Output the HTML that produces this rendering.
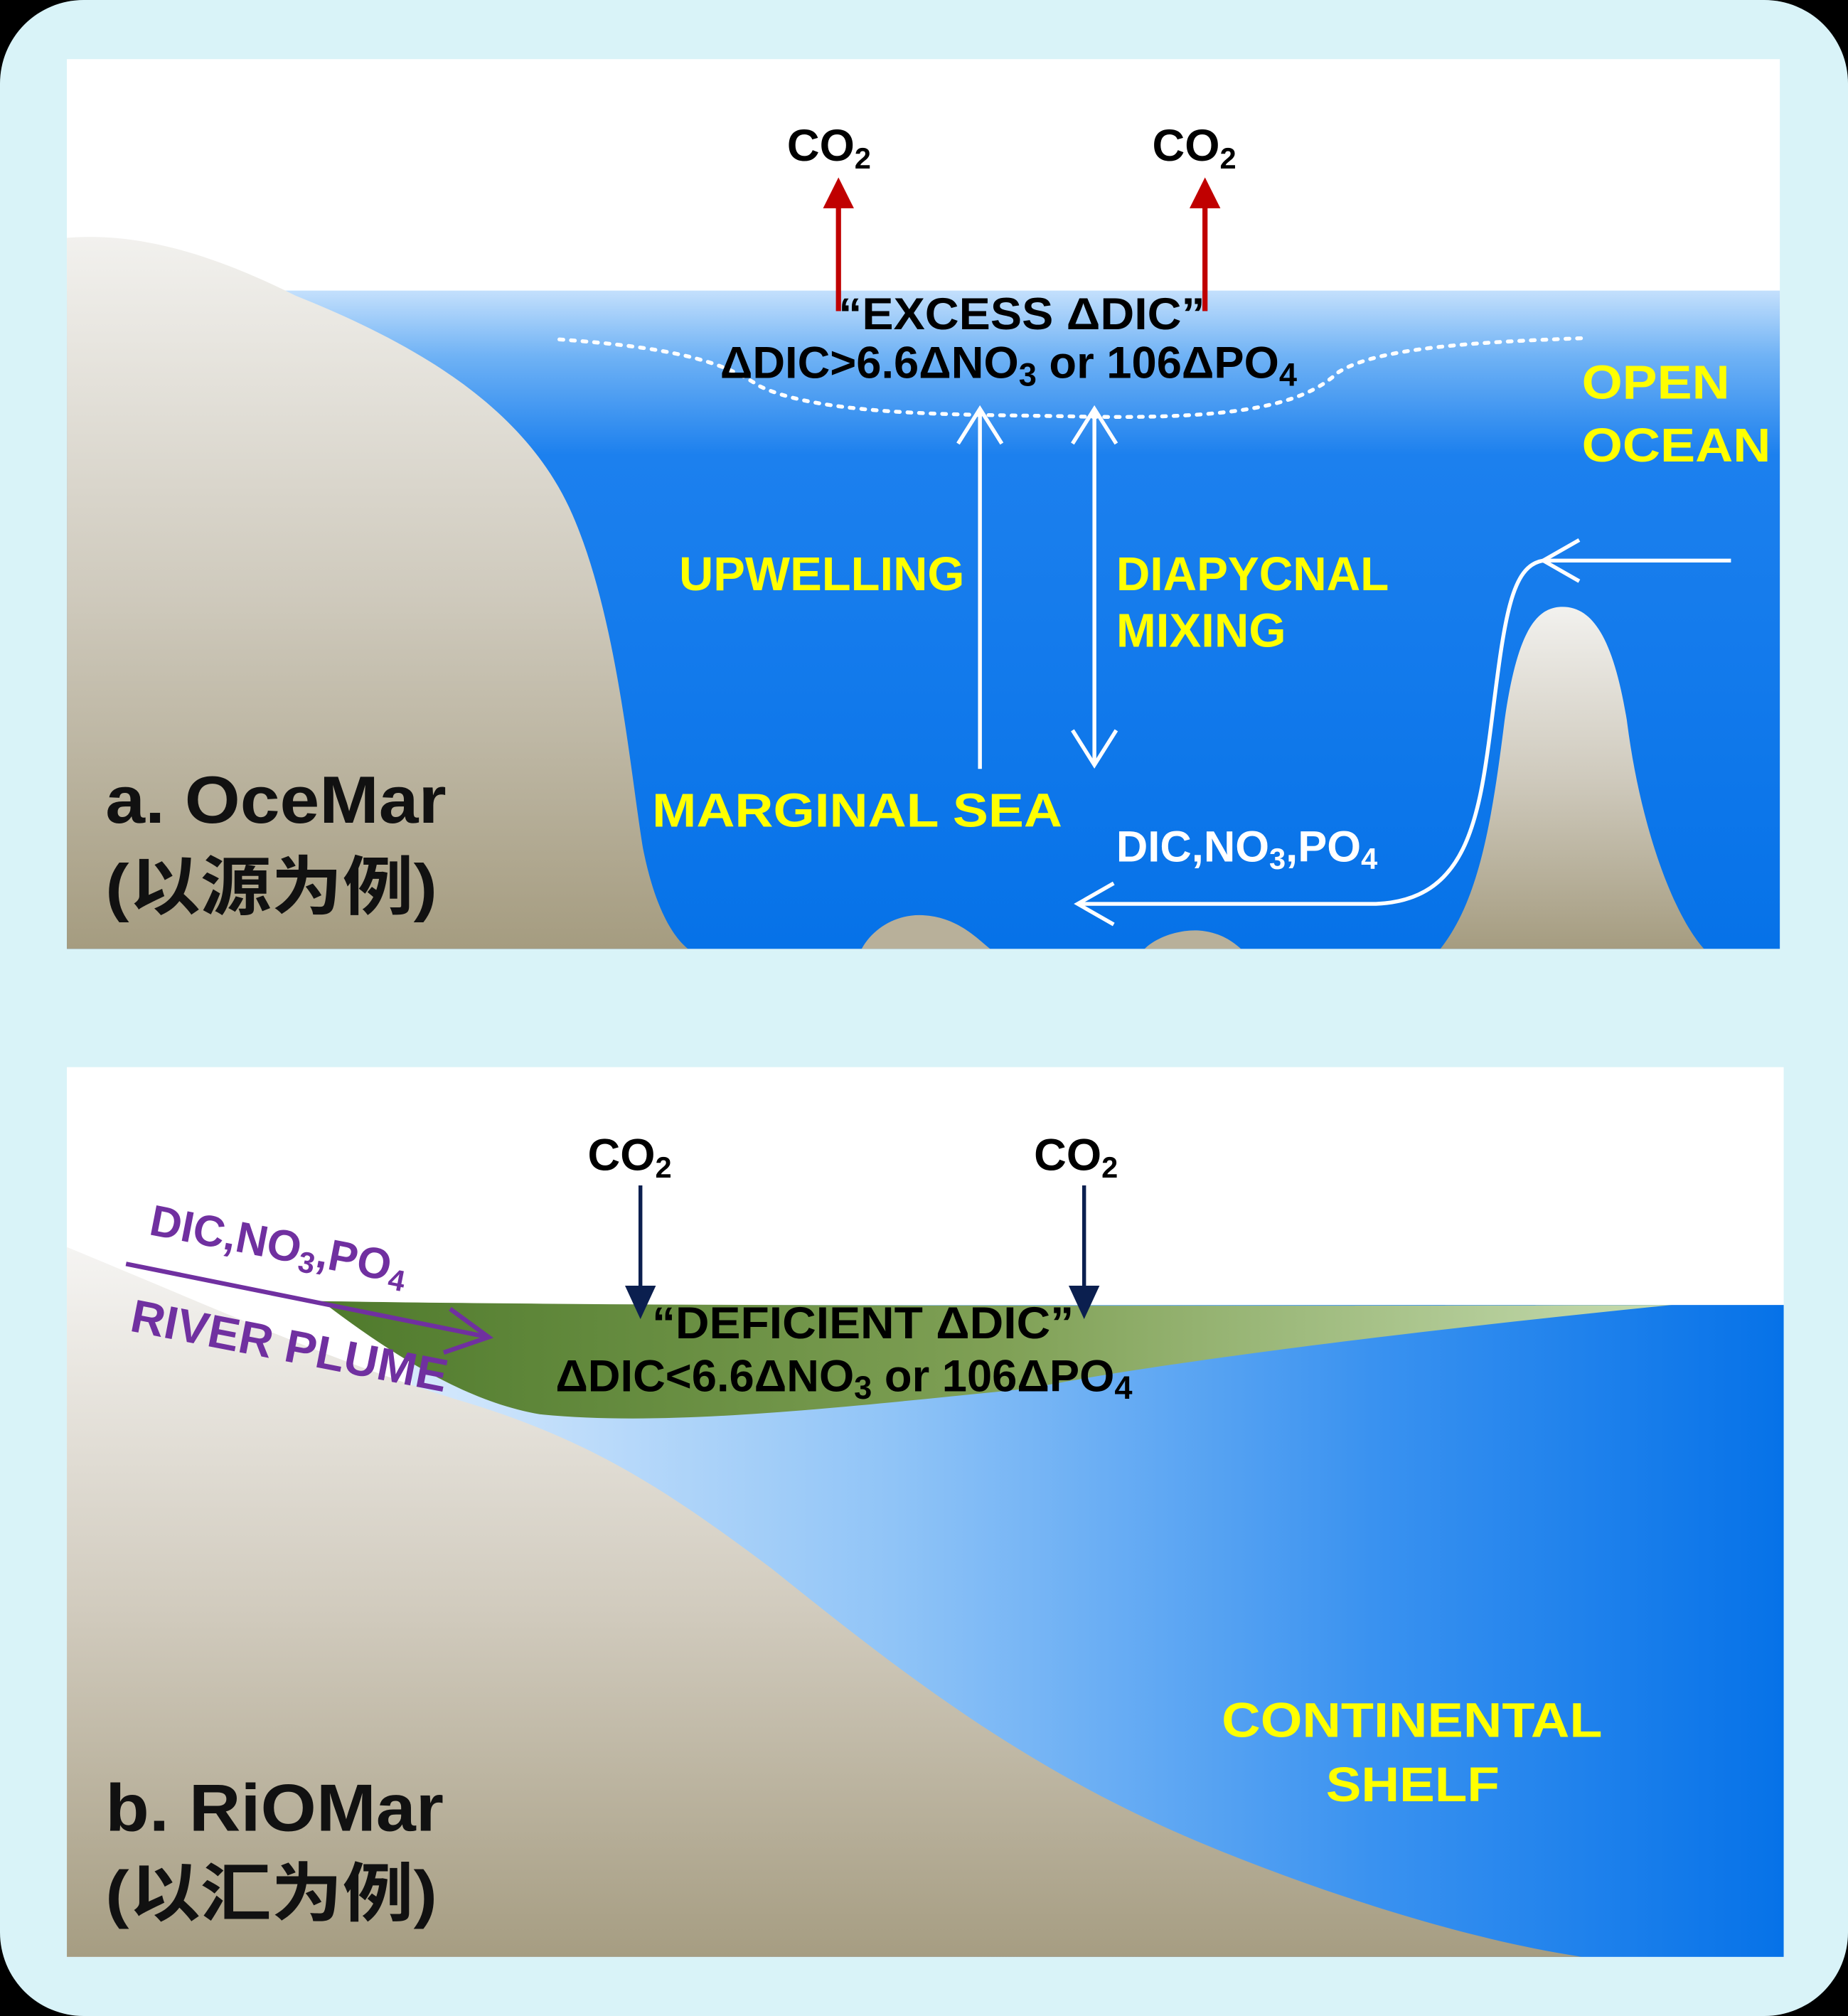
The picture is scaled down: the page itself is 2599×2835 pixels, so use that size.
<!DOCTYPE html>
<html><head><meta charset="utf-8"><style>
html,body{margin:0;padding:0;background:#000;}
svg{display:block;}
text{font-family:"Liberation Sans","Noto Sans CJK SC",sans-serif;font-weight:bold;}
</style></head><body>
<svg width="2599" height="2835" viewBox="0 0 1437 1568" preserveAspectRatio="none" xmlns="http://www.w3.org/2000/svg">
<defs>
<linearGradient id="landA" x1="0" y1="0" x2="0" y2="1">
<stop offset="0" stop-color="#f2f1ee"/><stop offset="0.5" stop-color="#cfcabd"/><stop offset="1" stop-color="#a59c80"/></linearGradient>
<linearGradient id="waterA" x1="0" y1="0" x2="0" y2="1">
<stop offset="0" stop-color="#c4e0fc"/><stop offset="0.1" stop-color="#6fb2f5"/><stop offset="0.25" stop-color="#1c80ee"/><stop offset="1" stop-color="#0672e8"/></linearGradient>
<linearGradient id="waterB" x1="0" y1="0" x2="1" y2="0">
<stop offset="0" stop-color="#d6e9fc"/><stop offset="0.35" stop-color="#90c4f7"/><stop offset="0.7" stop-color="#3a92f0"/><stop offset="1" stop-color="#0672e8"/></linearGradient>
<linearGradient id="landB" x1="0" y1="0" x2="0" y2="1">
<stop offset="0" stop-color="#f5f4f2"/><stop offset="0.5" stop-color="#d2ccbf"/><stop offset="1" stop-color="#a69d82"/></linearGradient>
<linearGradient id="plume" x1="0" y1="0" x2="1" y2="0">
<stop offset="0" stop-color="#4f7a2c"/><stop offset="0.5" stop-color="#7fa055"/><stop offset="1" stop-color="#c6dcb0"/></linearGradient>
</defs>
<rect x="0" y="0" width="1437" height="1568" rx="65" fill="#d9f3f8"/>
<!-- Panel a -->
<rect x="52" y="46" width="1332" height="692" fill="#fff"/>
<rect x="52" y="226" width="1332" height="512" fill="url(#waterA)"/>
<path d="M52,185 C110,180 170,200 230,230 C330,270 410,320 445,400 C480,480 490,600 500,660 C510,710 525,730 535,738 L52,738 Z" fill="url(#landA)"/>
<path d="M1120,738 C1150,700 1160,640 1170,560 C1180,490 1195,472 1215,472 C1240,472 1255,500 1265,560 C1275,640 1300,710 1325,738 Z" fill="url(#landA)"/>
<path d="M670,738 C680,720 700,710 720,712 C745,714 760,730 770,738 Z" fill="#b8b09a"/>
<path d="M890,738 C900,728 920,722 935,724 C950,726 958,732 965,738 Z" fill="#b8b09a"/>
<path d="M435,264 C520,270 560,280 590,300 C640,325 760,322 840,324 C950,326 1010,318 1040,290 C1070,270 1150,266 1232,263" fill="none" stroke="#fff" stroke-width="3" stroke-dasharray="3,6" stroke-linecap="round"/>
<line x1="652" y1="242" x2="652" y2="155" stroke="#c00000" stroke-width="4"/>
<polygon points="640,162 652,138 664,162" fill="#c00000"/>
<line x1="937" y1="242" x2="937" y2="155" stroke="#c00000" stroke-width="4"/>
<polygon points="925,162 937,138 949,162" fill="#c00000"/>
<text x="612" y="125" font-size="35" fill="#000">CO<tspan font-size="23" dy="6">2</tspan></text>
<text x="896" y="125" font-size="35" fill="#000">CO<tspan font-size="23" dy="6">2</tspan></text>
<text x="652" y="256" font-size="35" fill="#000" textLength="285" lengthAdjust="spacingAndGlyphs">“EXCESS ΔDIC”</text>
<text x="560" y="294" font-size="35" fill="#000">ΔDIC&gt;6.6ΔNO<tspan font-size="25" dy="6">3</tspan><tspan dy="-6"> or 106ΔPO</tspan><tspan font-size="25" dy="6">4</tspan></text>
<g stroke="#fff" stroke-width="3" fill="none">
<line x1="762" y1="598" x2="762" y2="318"/><polyline points="745,345 762,318 779,345"/>
<line x1="851" y1="318" x2="851" y2="595"/><polyline points="834,345 851,318 868,345"/><polyline points="834,568 851,595 868,568"/>
<path d="M1346,436 L1200,436 C1175,440 1170,480 1160,560 C1150,640 1140,700 1070,703 L838,703"/>
<polyline points="1228,420 1200,436 1228,452"/>
<polyline points="866,687 838,703 866,719"/>
</g>
<g fill="#ffff00" font-size="37">
<text x="1230" y="310" textLength="115" lengthAdjust="spacingAndGlyphs">OPEN</text><text x="1230" y="359" textLength="147" lengthAdjust="spacingAndGlyphs">OCEAN</text>
<text x="528" y="459" textLength="222" lengthAdjust="spacingAndGlyphs">UPWELLING</text>
<text x="868" y="459" textLength="212" lengthAdjust="spacingAndGlyphs">DIAPYCNAL</text><text x="868" y="503" textLength="132" lengthAdjust="spacingAndGlyphs">MIXING</text>
<text x="507" y="643" textLength="319" lengthAdjust="spacingAndGlyphs">MARGINAL SEA</text>
</g>
<text x="868" y="670" font-size="34" fill="#fff">DIC,NO<tspan font-size="23" dy="6">3</tspan><tspan dy="-6">,PO</tspan><tspan font-size="23" dy="6">4</tspan></text>
<text x="82" y="640" font-size="52" fill="#111" textLength="265" lengthAdjust="spacingAndGlyphs">a. OceMar</text>
<text x="82" y="707" font-size="50" fill="#111" textLength="258" lengthAdjust="spacingAndGlyphs">(以源为例)</text>
<!-- Panel b -->
<rect x="52" y="830" width="1335" height="692" fill="#fff"/>
<path d="M320,1015 L1387,1015 L1387,1522 L320,1522 Z" fill="url(#waterB)"/>
<path d="M52,970 C150,1010 260,1060 360,1090 C460,1120 520,1160 600,1220 C700,1300 800,1380 950,1440 C1050,1480 1150,1510 1230,1522 L52,1522 Z" fill="url(#landB)"/>
<path d="M250,1012 C500,1016 900,1016 1300,1015 C1100,1035 900,1060 800,1080 C650,1095 520,1110 420,1100 C360,1090 300,1050 250,1012 Z" fill="url(#plume)"/>
<line x1="498" y1="922" x2="498" y2="1005" stroke="#0b1f4f" stroke-width="3"/>
<polygon points="486,1000 498,1026 510,1000" fill="#0b1f4f"/>
<line x1="843" y1="922" x2="843" y2="1005" stroke="#0b1f4f" stroke-width="3"/>
<polygon points="831,1000 843,1026 855,1000" fill="#0b1f4f"/>
<text x="457" y="910" font-size="35" fill="#000">CO<tspan font-size="23" dy="6">2</tspan></text>
<text x="804" y="910" font-size="35" fill="#000">CO<tspan font-size="23" dy="6">2</tspan></text>
<text x="507" y="1041" font-size="35" fill="#000" textLength="328" lengthAdjust="spacingAndGlyphs">“DEFICIENT ΔDIC”</text>
<text x="432" y="1082" font-size="35" fill="#000">ΔDIC&lt;6.6ΔNO<tspan font-size="25" dy="6">3</tspan><tspan dy="-6"> or 106ΔPO</tspan><tspan font-size="25" dy="6">4</tspan></text>
<g stroke="#7030a0" stroke-width="3.5" fill="none">
<line x1="98" y1="983" x2="380" y2="1040"/><polyline points="350,1018 380,1040 345,1052"/>
</g>
<text x="115" y="960" font-size="34" fill="#7030a0" transform="rotate(11 115 960)">DIC,NO<tspan font-size="23" dy="6">3</tspan><tspan dy="-6">,PO</tspan><tspan font-size="23" dy="6">4</tspan></text>
<text x="100" y="1035" font-size="36" fill="#7030a0" transform="rotate(11 100 1035)" textLength="250" lengthAdjust="spacingAndGlyphs">RIVER PLUME</text>
<text x="950" y="1351" font-size="38" fill="#ffff00" textLength="296" lengthAdjust="spacingAndGlyphs">CONTINENTAL</text>
<text x="1031" y="1401" font-size="38" fill="#ffff00" textLength="135" lengthAdjust="spacingAndGlyphs">SHELF</text>
<text x="82" y="1424" font-size="52" fill="#111" textLength="263" lengthAdjust="spacingAndGlyphs">b. RiOMar</text>
<text x="82" y="1490" font-size="50" fill="#111" textLength="258" lengthAdjust="spacingAndGlyphs">(以汇为例)</text>
</svg>
</body></html>
